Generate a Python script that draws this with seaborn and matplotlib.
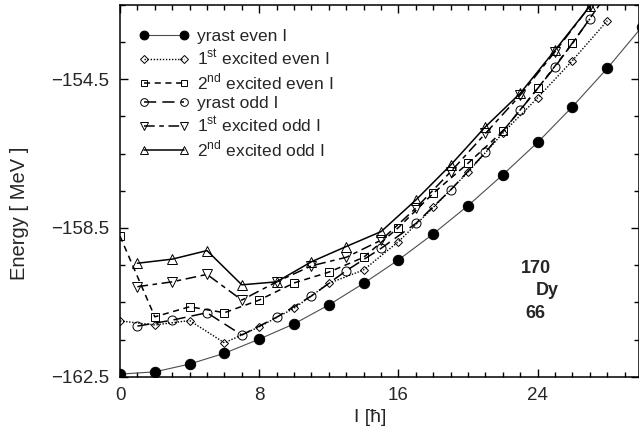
import numpy as np
import pandas as pd
import matplotlib
matplotlib.use("Agg")
import matplotlib.pyplot as plt
from matplotlib.ticker import FixedLocator, MultipleLocator
import seaborn as sns

# spin values
I_even = [0, 2, 4, 6, 8, 10, 12, 14, 16, 18, 20, 22, 24, 26, 28, 30]
I_odd = [1, 3, 5, 7, 9, 11, 13, 15, 17, 19, 21, 23, 25, 27]

# energies [MeV]
yrast_even = [-162.43, -162.37, -162.16, -161.87, -161.49, -161.08, -160.57, -159.99,
              -159.36, -158.66, -157.90, -157.07, -156.20, -155.24, -154.21, -153.09]
exc1_even = [-161.00, -161.11, -160.99, -161.59, -161.16, -160.66, -159.99, -159.63,
             -158.87, -157.95, -157.00, -155.95, -155.00, -154.00, -152.93]
exc2_even = [-158.72, -160.89, -160.62, -160.78, -160.44, -159.98, -159.69, -159.29,
             -158.49, -157.57, -156.76, -155.90, -154.75, -153.54, -152.20]
yrast_odd = [-161.14, -160.98, -160.78, -161.38, -160.90, -160.33, -159.65,
             -159.05, -158.38, -157.48, -156.47, -155.33, -154.17, -152.88]
exc1_odd = [-160.08, -159.95, -159.75, -160.44, -159.95, -159.52, -159.29,
            -158.83, -157.97, -156.99, -155.96, -154.93, -153.76, -152.54]
exc2_odd = [-159.45, -159.34, -159.11, -160.03, -159.95, -159.41, -159.00,
            -158.60, -157.75, -156.81, -155.78, -154.88, -153.72, -152.54]

y_major = [-162.5, -158.5, -154.5]
y_labels = ["\u2212162.5", "\u2212158.5", "\u2212154.5"]
y_minor = list(np.arange(-162.5, -152.4, 1.0))
x_major = [0, 8, 16, 24]

sns.set_style("ticks")
plt.rcParams["font.family"] = ["Liberation Sans", "DejaVu Sans"]
plt.rcParams["mathtext.fontset"] = "custom"
plt.rcParams["mathtext.rm"] = "Liberation Sans"

fig = plt.figure(figsize=(6.39, 4.34), dpi=100)
ax = fig.add_axes([120 / 639, 57.3 / 434, 519.5 / 639, 372 / 434])

series = [
    ("yrast even I", I_even, yrast_even, "o", "-", "0.3", 0.8, "k", 7.5),
    ("1$^{\\rm st}$ excited even I", I_even[:len(exc1_even)], exc1_even, "D", (0, (1, 1.2)), "k", 1.0, "none", 4.5),
    ("2$^{\\rm nd}$ excited even I", I_even[:len(exc2_even)], exc2_even, "s", (0, (4, 3)), "k", 1.1, "none", 5.5),
    ("yrast odd I", I_odd, yrast_odd, "o", (0, (8, 4)), "k", 1.1, "none", 6.5),
    ("1$^{\\rm st}$ excited odd I", I_odd, exc1_odd, "v", (0, (7, 3, 3, 3)), "k", 1.1, "none", 6.5),
    ("2$^{\\rm nd}$ excited odd I", I_odd, exc2_odd, "^", "-", "k", 1.1, "none", 6.5),
]

for label, xs, ys, mk, ls, col, lw, mfc, ms in series:
    df = pd.DataFrame({"I": xs, "E": ys})
    sns.lineplot(data=df, x="I", y="E", ax=ax, label=label, marker=mk,
                 linestyle=ls, color=col, linewidth=lw, markersize=ms,
                 markerfacecolor=mfc, markeredgecolor="k", markeredgewidth=0.7)

ax.set_xlim(0, 29.85)
ax.set_ylim(-162.5, -152.5)
ax.xaxis.set_major_locator(FixedLocator(x_major))
ax.xaxis.set_minor_locator(MultipleLocator(1))
ax.yaxis.set_major_locator(FixedLocator(y_major))
ax.yaxis.set_minor_locator(FixedLocator(y_minor))
ax.set_yticklabels(y_labels)
ax.tick_params(which="both", direction="in", top=True, right=True,
               labelsize=13.5, width=1.0, color="k")
ax.tick_params(which="major", length=6, pad=7.5)
ax.tick_params(which="minor", length=3.5)
for sp in ax.spines.values():
    sp.set_linewidth(1.1)
    sp.set_color("k")

ax.set_xlabel("I [\u0127]", fontsize=14)
ax.xaxis.set_label_coords(0.481, -0.088)
ax.set_ylabel("Energy [ MeV ]", fontsize=14.5)
ax.yaxis.set_label_coords(-0.175, 0.44)

leg = ax.legend(loc="upper left", bbox_to_anchor=(0.022, 0.953), frameon=False,
                fontsize=12.5, numpoints=2, handlelength=2.9, handletextpad=0.5,
                labelspacing=0.21, borderaxespad=0.0, markerscale=0.85)

ax.text(23.9, -159.58, "170", fontsize=13, fontweight="bold", ha="center", va="center")
ax.text(24.55, -160.19, "Dy", fontsize=13, fontweight="bold", ha="center", va="center")
ax.text(23.85, -160.79, "66", fontsize=13, fontweight="bold", ha="center", va="center")

fig.savefig("out.png", dpi=100)
